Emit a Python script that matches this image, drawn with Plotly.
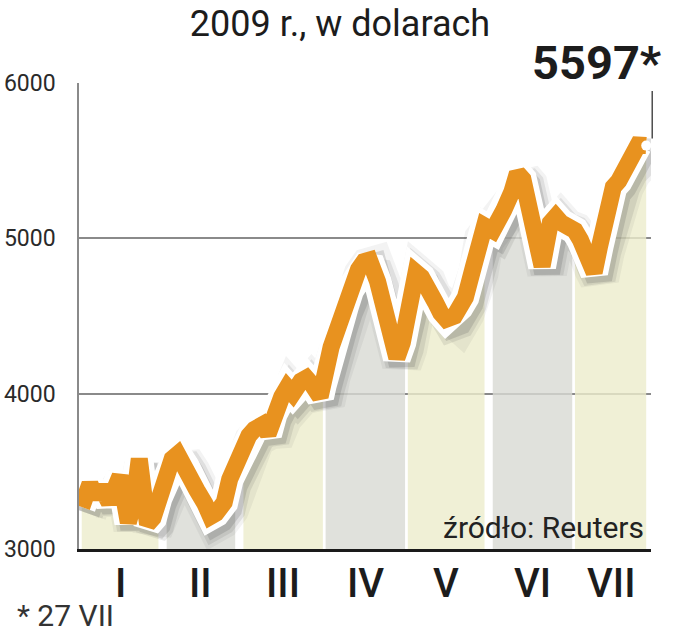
import pandas as pd
import plotly.graph_objects as go

# ---------------- data ----------------
dates = [
    "2009-01-02", "2009-01-05", "2009-01-07", "2009-01-09", "2009-01-12", "2009-01-14",
    "2009-01-16", "2009-01-19", "2009-01-21", "2009-01-23", "2009-01-26", "2009-01-28",
    "2009-01-30",
    "2009-02-02", "2009-02-04", "2009-02-06", "2009-02-09", "2009-02-11", "2009-02-13",
    "2009-02-16", "2009-02-18", "2009-02-20", "2009-02-23", "2009-02-25", "2009-02-27",
    "2009-03-02", "2009-03-04", "2009-03-06", "2009-03-09", "2009-03-11", "2009-03-13",
    "2009-03-16", "2009-03-18", "2009-03-20", "2009-03-23", "2009-03-25", "2009-03-27",
    "2009-03-30", "2009-03-31",
    "2009-04-01", "2009-04-03", "2009-04-06", "2009-04-08", "2009-04-10", "2009-04-13",
    "2009-04-15", "2009-04-17", "2009-04-20", "2009-04-22", "2009-04-24", "2009-04-27",
    "2009-04-29", "2009-04-30",
    "2009-05-01", "2009-05-04", "2009-05-06", "2009-05-08", "2009-05-11", "2009-05-13",
    "2009-05-15", "2009-05-18", "2009-05-20", "2009-05-22", "2009-05-25", "2009-05-27",
    "2009-05-29",
    "2009-06-01", "2009-06-03", "2009-06-05", "2009-06-08", "2009-06-10", "2009-06-12",
    "2009-06-15", "2009-06-17", "2009-06-19", "2009-06-22", "2009-06-24", "2009-06-26",
    "2009-06-29", "2009-06-30",
    "2009-07-01", "2009-07-03", "2009-07-06", "2009-07-08", "2009-07-10", "2009-07-13",
    "2009-07-15", "2009-07-17", "2009-07-20", "2009-07-22", "2009-07-24", "2009-07-27",
]
prices = [
    3270, 3420, 3330, 3400, 3300, 3420,
    3470, 3170, 3300, 3580, 3160, 3200,
    3330,
    3450, 3580, 3610, 3530, 3450, 3380,
    3290, 3210, 3230, 3300, 3450, 3530,
    3680, 3730, 3770, 3800, 3740, 3870,
    3980, 4040, 4000, 4080, 4100, 4060,
    3980, 4060,
    4150, 4300, 4450, 4560, 4670, 4800,
    4850, 4860, 4720, 4560, 4420, 4230,
    4330, 4450,
    4520, 4780, 4750, 4660, 4590, 4520,
    4480, 4500, 4560, 4620, 4820, 5030,
    5080,
    5050, 5100, 5180, 5300, 5420, 5380,
    5150, 4900, 4820, 5100, 5140, 5100,
    5080, 5060,
    5050, 4990, 4850, 4780, 4950, 5250,
    5330, 5370, 5470, 5520, 5600, 5597,
]
month_labels = ["I", "II", "III", "IV", "V", "VI", "VII"]
y_ticks = [3000, 4000, 5000, 6000]
title_text = "2009 r., w dolarach"
source_text = "źródło: Reuters"
footnote_text = "* 27 VII"

# ---------------- style ----------------
ORANGE = "#E8921F"
BAND_COLORS = ["rgba(236,236,204,0.8)", "rgba(216,217,211,0.8)"]
TEXT = "#1c1c1c"
W, H = 680, 640
ML, MT = 79, 83
PW, PH = 572, 466
MR, MB = W - ML - PW, H - MT - PH

x0 = pd.Timestamp("2009-01-01")
x1 = pd.Timestamp("2009-07-28 18:00")
y0, y1 = y_ticks[0], y_ticks[-1]

df = pd.DataFrame({"date": pd.to_datetime(dates), "price": prices})
df["m"] = df["date"].dt.month

fig = go.Figure()

# month bands under the curve
tickvals = []
for i, (m, g) in enumerate(df.groupby("m")):
    fig.add_trace(go.Scatter(
        x=g["date"], y=g["price"], mode="lines", line=dict(width=0),
        fill="tozeroy", fillcolor=BAND_COLORS[i % 2],
        hoverinfo="skip", showlegend=False, xaxis="x", yaxis="y"))
    tickvals.append(g["date"].min() + (g["date"].max() - g["date"].min()) / 2)

# shadow (offset overlay axes)
ms_px = (x1 - x0) / PW
u_px = (y1 - y0) / PH
dxp, dyp = 5, 6
for wdt, alpha in [(40, 0.06), (33, 0.10), (26, 0.15)]:
    fig.add_trace(go.Scatter(
        x=df["date"], y=df["price"], mode="lines",
        line=dict(color=f"rgba(50,50,50,{alpha})", width=wdt),
        hoverinfo="skip", showlegend=False, xaxis="x2", yaxis="y2"))

# white outline + orange line
fig.add_trace(go.Scatter(
    x=df["date"], y=df["price"], mode="lines",
    line=dict(color="white", width=28),
    hoverinfo="skip", showlegend=False, xaxis="x3", yaxis="y3"))
fig.add_trace(go.Scatter(
    x=df["date"], y=df["price"], mode="lines",
    line=dict(color=ORANGE, width=17),
    showlegend=False, xaxis="x3", yaxis="y3"))
fig.add_trace(go.Scatter(
    x=df["date"].iloc[-1:], y=df["price"].iloc[-1:], mode="markers",
    marker=dict(color="white", size=10, line=dict(width=0)),
    showlegend=False, xaxis="x3", yaxis="y3", cliponaxis=False))

xr = [str(x0), str(x1)]
yr = [y0, y1]
fig.update_layout(
    width=W, height=H,
    margin=dict(l=ML, r=MR, t=MT, b=MB, autoexpand=False),
    paper_bgcolor="white", plot_bgcolor="white",
    showlegend=False,
    title=dict(text=title_text, x=0.5, xref="container", xanchor="center",
               y=1 - 23 / H, yanchor="middle",
               font=dict(family="Roboto", size=36, color=TEXT)),
    xaxis=dict(type="date", range=xr, showgrid=False, zeroline=False,
               showticklabels=False, ticks="",
               showline=True, linecolor="#1a1a1a", linewidth=3,
               layer="above traces", fixedrange=True, automargin=False),
    yaxis=dict(range=yr, tickvals=y_ticks, ticktext=[str(v) for v in y_ticks],
               showgrid=True, gridcolor="#8a8a8a", gridwidth=1.5, zeroline=False,
               ticks="outside", ticklen=17, tickcolor="rgba(0,0,0,0)",
               tickfont=dict(family="Roboto", size=23, color="#2a2a2a"),
               showline=True, linecolor="#8a8a8a", linewidth=1.5,
               layer="below traces", fixedrange=True, automargin=False),
    xaxis2=dict(type="date", overlaying="x", visible=False,
                range=[str(x0 - dxp * ms_px), str(x1 - dxp * ms_px)]),
    yaxis2=dict(overlaying="y", visible=False,
                range=[y0 + dyp * u_px, y1 + dyp * u_px]),
    xaxis3=dict(type="date", overlaying="x", visible=False, range=xr),
    yaxis3=dict(overlaying="y", visible=False, range=yr),
)

# month labels under the axis
for tv, lab in zip(tickvals, month_labels):
    fig.add_annotation(x=tv, y=0, xref="x", yref="paper", text=lab,
                       showarrow=False, xanchor="center", yanchor="middle",
                       yshift=-34,
                       font=dict(family="Roboto", size=40, color=TEXT, weight=500))

last_date = df["date"].iloc[-1]
last_val = df["price"].iloc[-1]
fig.add_annotation(x=last_date, y=last_val, xref="x", yref="y", text="",
                   showarrow=True, arrowhead=0, arrowwidth=1.3, arrowcolor="#333",
                   ax=0, ay=-56, standoff=7, xshift=6)
fig.add_annotation(x=1, y=1, xref="paper", yref="paper",
                   text=f"<b>{last_val}*</b>", showarrow=False,
                   xanchor="right", yanchor="bottom", xshift=13, yshift=-9,
                   font=dict(family="Roboto", size=47, color=TEXT))
fig.add_annotation(x=1, y=0, xref="paper", yref="paper", text=source_text,
                   showarrow=False, xanchor="right", yanchor="bottom",
                   xshift=-5, yshift=2,
                   font=dict(family="Roboto", size=30, color="#222"))
fig.add_annotation(x=0, y=0, xref="paper", yref="paper", text=footnote_text,
                   showarrow=False, xanchor="left", yanchor="middle",
                   xshift=-64, yshift=-66,
                   font=dict(family="Roboto", size=30, color="#333"))

# page body has a default 8px margin; remove it so the figure fills the window
fig.write_html("out.html", config={"displayModeBar": False},
               post_script="document.body.style.margin='0px';")
